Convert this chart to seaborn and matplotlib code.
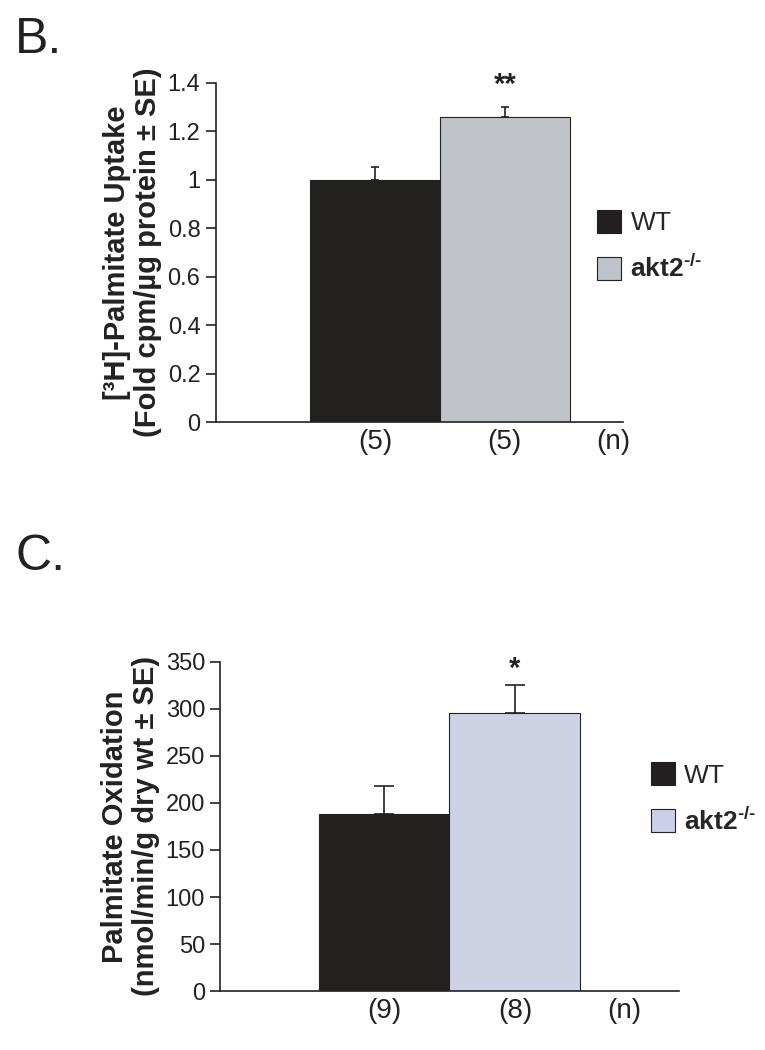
import matplotlib
matplotlib.use('Agg')

import pandas as pd
import matplotlib.pyplot as plt
import seaborn as sns
from matplotlib.patches import Patch

# data
genotypes = ['WT', 'akt2-/-']
uptake_mean = [1.00, 1.26]
uptake_se = [0.053, 0.04]
uptake_n = ['(5)', '(5)']
oxid_mean = [188, 295]
oxid_se = [30, 30]
oxid_n = ['(9)', '(8)']

sns.set_style('white')
plt.rcParams['font.family'] = ['Liberation Sans', 'DejaVu Sans']
plt.rcParams['mathtext.default'] = 'regular'

fig = plt.figure(figsize=(7.65, 10.5), dpi=100)
axB = fig.add_axes([0.282, 0.598, 0.532, 0.323])
axC = fig.add_axes([0.288, 0.056, 0.599, 0.314])

INK = '#222222'


def draw_panel(ax, means, ses, ns, colors, ylim, yticks, ylabel, star, star_y,
               xlim, capsize, leg_anchor):
    df = pd.DataFrame({'grp': ['a', 'a'], 'geno': genotypes, 'val': means})
    sns.barplot(data=df, x='grp', y='val', hue='geno', palette=colors,
                errorbar=None, width=0.8, edgecolor=INK, linewidth=0.8,
                legend=False, ax=ax)
    bars = ax.patches[:2]
    xs = [b.get_x() + b.get_width() / 2 for b in bars]
    ax.errorbar(xs, means, yerr=[[0, 0], ses], fmt='none', ecolor=INK,
                elinewidth=1.2, capsize=capsize, capthick=1.2)
    ax.text(xs[1], star_y, star, ha='center', va='center', fontsize=21,
            fontweight='bold', color=INK)
    ax.set_xlim(*xlim)
    ax.set_ylim(*ylim)
    ax.set_yticks(yticks)
    ax.set_yticklabels([f'{t:g}' for t in yticks], fontsize=17, color=INK)
    ax.set_xticks(xs + [xs[1] + 0.335])
    ax.set_xticklabels(ns + ['(n)'], fontsize=20, color=INK)
    ax.tick_params(axis='x', length=0, pad=5)
    ax.tick_params(axis='y', left=True, length=7, width=1.2, color=INK,
                   pad=4, direction='out')
    ax.set_xlabel('')
    ax.set_ylabel(ylabel, fontsize=21, fontweight='bold', color=INK,
                  labelpad=4, linespacing=1.15)
    for s in ['top', 'right']:
        ax.spines[s].set_visible(False)
    for s in ['left', 'bottom']:
        ax.spines[s].set_color(INK)
        ax.spines[s].set_linewidth(1.2)
    handles = [Patch(facecolor=colors[0], edgecolor=INK, linewidth=0.8),
               Patch(facecolor=colors[1], edgecolor=INK, linewidth=0.8)]
    leg = ax.legend(handles, ['WT', 'akt2$^{\u2010/\u2010}$'], loc='upper left',
                    bbox_to_anchor=leg_anchor, bbox_transform=fig.transFigure,
                    frameon=False, fontsize=19, handlelength=0.9,
                    handleheight=0.95, handletextpad=0.35, labelspacing=0.75,
                    borderaxespad=0, borderpad=0)
    leg.get_texts()[1].set_fontweight('bold')


draw_panel(axB, uptake_mean, uptake_se, uptake_n, ['#231f20', '#bec3ca'],
           (0, 1.4), [0, 0.2, 0.4, 0.6, 0.8, 1.0, 1.2, 1.4],
           '[³H]-Palmitate Uptake\n(Fold cpm/µg protein ± SE)', '**', 1.39,
           (-0.69, 0.563), 3, (0.781, 0.800))

draw_panel(axC, oxid_mean, oxid_se, oxid_n, ['#231f20', '#cbd0e8'],
           (0, 350), [0, 50, 100, 150, 200, 250, 300, 350],
           'Palmitate Oxidation\n(nmol/min/g dry wt ± SE)', '*', 342,
           (-0.70, 0.70), 7, (0.851, 0.274))

fig.text(0.02, 0.962, 'B.', fontsize=36, va='center', ha='left', color=INK)
fig.text(0.02, 0.470, 'C.', fontsize=36, va='center', ha='left', color=INK)

plt.savefig('out.png', dpi=100)
plt.close()
